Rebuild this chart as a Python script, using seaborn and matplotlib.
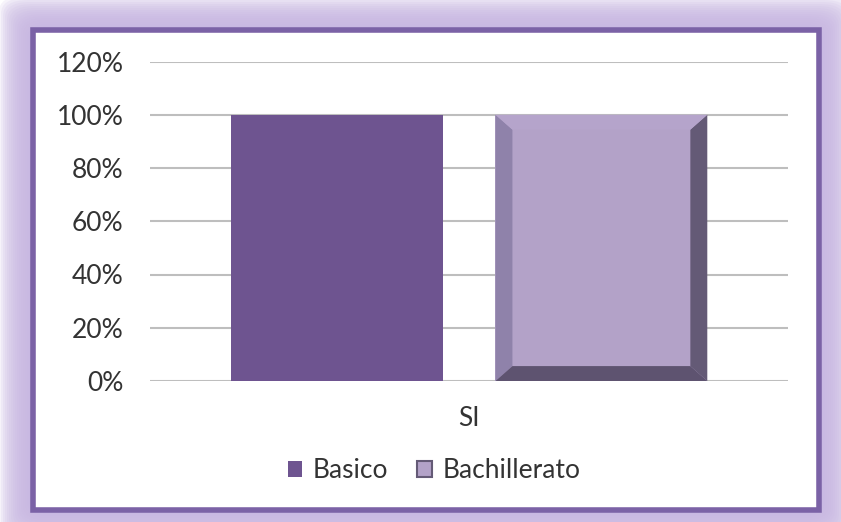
import pandas as pd
import matplotlib
matplotlib.use('Agg')
import matplotlib.pyplot as plt
import seaborn as sns
from matplotlib.patches import Polygon, Rectangle, FancyBboxPatch, Patch
from matplotlib.ticker import PercentFormatter

# data
categories = ['SI']
series = ['Basico', 'Bachillerato']
values = [1.0, 1.0]
y_ticks = [0.0, 0.2, 0.4, 0.6, 0.8, 1.0, 1.2]

colors = ['#6E5490', '#B3A2C8']

df = pd.DataFrame({
    'categoria': categories * len(series),
    'nivel': series,
    'valor': values,
})

sns.set_style('white')
plt.rcParams['font.family'] = ['Lato', 'DejaVu Sans']

W, H = 841, 522
fig = plt.figure(figsize=(W / 100, H / 100), dpi=100)
fig.patch.set_facecolor('white')

# soft lavender glow around the frame
fx0, fy0, fx1, fy1 = 33, 30, 819, 510
for pad in range(34, 0, -2):
    fig.patches.append(FancyBboxPatch(
        ((fx0 - pad) / W, 1 - (fy1 + pad) / H),
        (fx1 - fx0 + 2 * pad) / W, (fy1 - fy0 + 2 * pad) / H,
        boxstyle='round,pad=0,rounding_size=0.03',
        transform=fig.transFigure, facecolor='#C8B6E2', edgecolor='none',
        alpha=0.16, zorder=0))
# purple frame with white inside
fig.patches.append(Rectangle(
    (fx0 / W, 1 - fy1 / H), (fx1 - fx0) / W, (fy1 - fy0) / H,
    transform=fig.transFigure, facecolor='white', edgecolor='#7B62A6',
    linewidth=4, zorder=1))

ax = fig.add_axes([150 / W, 1 - 381 / H, 638 / W, 319.5 / H])
ax.set_facecolor('none')
ax.set_zorder(2)

sns.barplot(data=df, x='categoria', y='valor', hue='nivel', hue_order=series,
            palette=colors, saturation=1, width=0.83, gap=0.2,
            edgecolor='none', legend=False, ax=ax)

# bevel effect on the Bachillerato bar
bar = ax.patches[1]
x0, y0 = bar.get_x(), bar.get_y()
bw, bh = bar.get_width(), bar.get_height()
x1, y1 = x0 + bw, y0 + bh
dx, dy = bw * 0.08, 0.056
bevels = [
    ([(x0, y0), (x0 + dx, y0 + dy), (x0 + dx, y1 - dy), (x0, y1)], '#8F82AA'),
    ([(x1, y0), (x1 - dx, y0 + dy), (x1 - dx, y1 - dy), (x1, y1)], '#645A76'),
    ([(x0, y0), (x1, y0), (x1 - dx, y0 + dy), (x0 + dx, y0 + dy)], '#5E5370'),
    ([(x0, y1), (x1, y1), (x1 - dx, y1 - dy), (x0 + dx, y1 - dy)], '#B5A4CB'),
]
for pts, c in bevels:
    ax.add_patch(Polygon(pts, closed=True, facecolor=c, edgecolor='none', zorder=3))

ax.set_ylim(0, 1.2)
ax.set_yticks(y_ticks)
ax.yaxis.set_major_formatter(PercentFormatter(1.0, decimals=0))
ax.yaxis.grid(True, color='#BEBEBE', linewidth=1.5)
ax.set_axisbelow(True)
for s in ax.spines.values():
    s.set_visible(False)
ax.tick_params(axis='both', length=0, labelsize=19, colors='#333333')
ax.tick_params(axis='y', pad=19)
ax.tick_params(axis='x', pad=18)
ax.set_xlabel('')
ax.set_ylabel('')

handles = [Patch(facecolor=colors[0], edgecolor='none'),
           Patch(facecolor=colors[1], edgecolor='#645A76', linewidth=1.5)]
leg = ax.legend(handles, series, loc='center', bbox_to_anchor=(0.445, -0.28),
                ncol=2, frameon=False, fontsize=19, handlelength=0.55,
                handleheight=0.55, handletextpad=0.4, columnspacing=1.1)
for t in leg.get_texts():
    t.set_color('#333333')

fig.savefig('out.png', dpi=100)
